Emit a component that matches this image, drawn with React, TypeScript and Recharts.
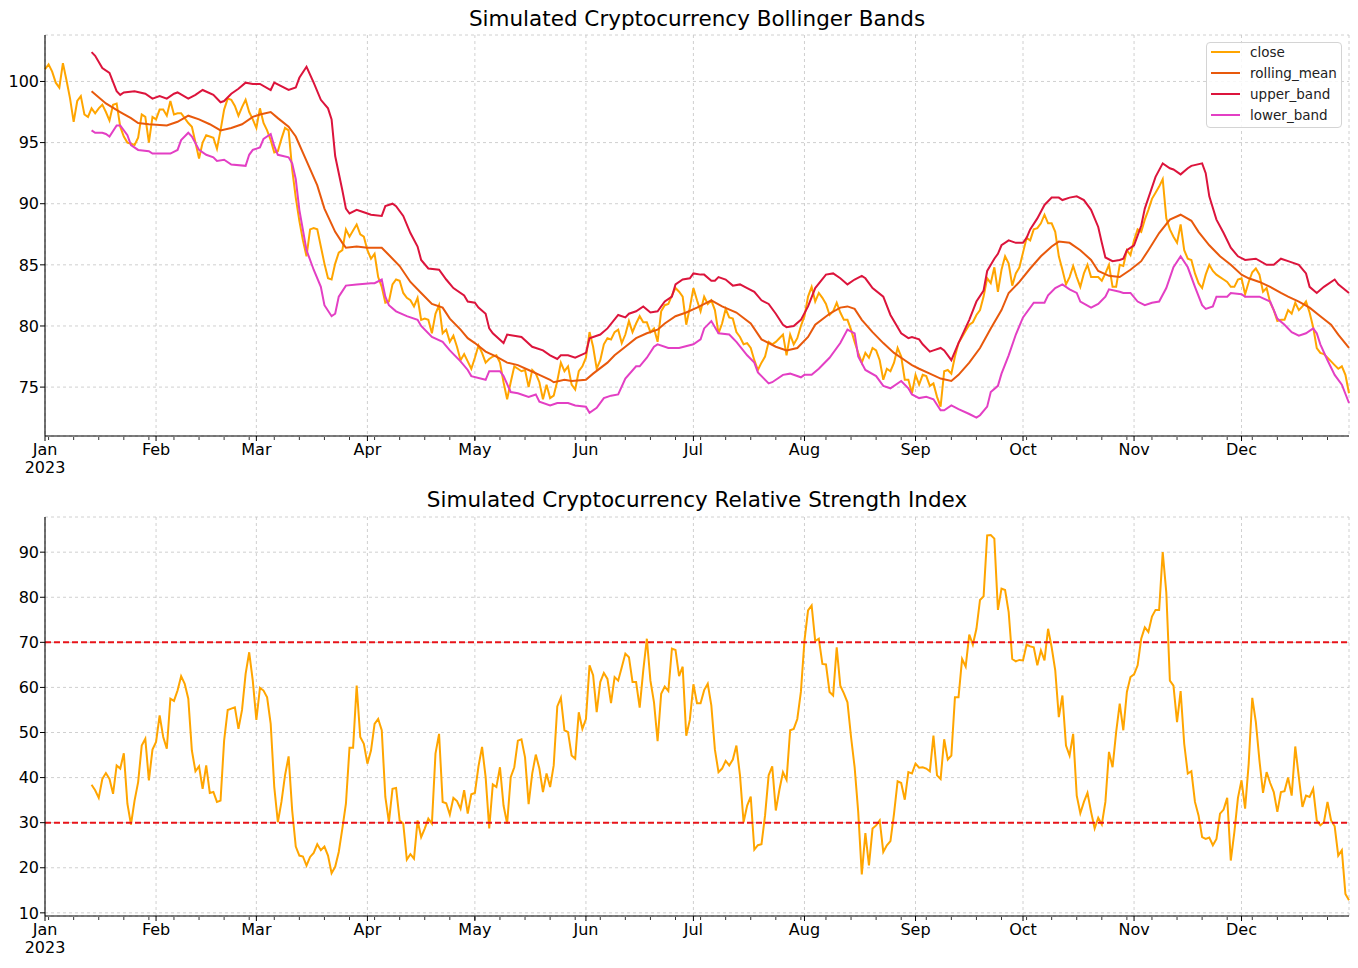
import React from "react";
import { LineChart, Line, XAxis, YAxis, CartesianGrid, ReferenceLine } from "recharts";

// ── Data (day index 0 = 2023-01-01) ─────────────────────────────

const YEAR_LABEL = "2023";
const MONTH_STARTS = [0, 31, 59, 90, 120, 151, 181, 212, 243, 273, 304, 334];
const MONTH_LABELS = ["Jan", "Feb", "Mar", "Apr", "May", "Jun", "Jul", "Aug", "Sep", "Oct", "Nov", "Dec"];

const BAND_TICKS = [75, 80, 85, 90, 95, 100];
const RSI_TICKS = [10, 20, 30, 40, 50, 60, 70, 80, 90];
const RSI_LEVELS = [70, 30];

// daily close, one value per day
const closeValues = [
  101.0, 101.4, 100.8, 99.9, 99.5, 101.5, 100.1, 98.6, 96.7, 98.4,
  98.8, 97.3, 97.1, 97.8, 97.4, 97.8, 98.1, 97.5, 96.8, 98.1,
  98.2, 96.3, 95.5, 95.0, 94.9, 94.8, 95.4, 97.3, 97.1, 95.0,
  97.1, 96.9, 97.7, 97.7, 97.2, 98.4, 97.3, 97.4, 97.4, 97.0,
  96.6, 96.3, 95.0, 93.7, 95.0, 95.6, 95.5, 95.4, 94.5, 96.0,
  97.7, 98.6, 98.5, 98.0, 97.2, 97.9, 98.5, 97.5, 96.9, 96.2,
  97.8, 96.6, 96.0, 95.2, 94.2, 94.3, 95.3, 96.2, 96.0, 92.8,
  90.5, 88.6, 87.0, 85.7, 87.9, 88.0, 87.9, 86.5, 85.1, 83.9,
  83.8, 85.1, 86.0, 86.2, 87.9, 87.3, 87.8, 88.3, 87.5, 87.3,
  86.2, 85.5, 85.9, 84.0, 83.2, 81.9, 82.0, 83.4, 83.8, 83.7,
  82.7, 82.3, 82.1, 81.6, 82.3, 80.5, 80.6, 80.5, 79.4, 81.0,
  81.7, 79.4, 79.7, 78.7, 79.2, 78.3, 77.2, 77.7, 77.1, 76.5,
  77.4, 78.4, 77.8, 77.0, 77.3, 77.5, 77.6, 77.0, 75.4, 74.0,
  75.4, 76.7, 76.5, 76.3, 76.4, 75.0, 76.4, 76.1, 75.4, 74.0,
  75.2, 74.1, 74.3, 75.5, 77.0, 76.3, 76.7, 75.2, 74.8, 76.3,
  76.7, 77.4, 79.5, 78.3, 76.5, 77.2, 78.5, 79.0, 78.9, 79.5,
  79.7, 78.6, 79.3, 80.4, 79.5, 80.2, 80.8, 80.3, 80.3, 79.5,
  79.8, 78.7, 81.2, 81.7, 81.8, 82.5, 83.1, 82.8, 82.4, 80.1,
  81.5, 83.1, 82.1, 81.2, 82.4, 81.8, 82.1, 81.3, 79.4, 80.2,
  81.4, 80.7, 80.6, 79.5, 79.1, 78.5, 78.6, 78.2, 77.2, 76.4,
  77.0, 77.5, 78.7, 78.5, 78.7, 79.0, 79.3, 77.6, 79.3, 78.5,
  79.0, 80.0, 80.8, 82.4, 83.2, 82.0, 82.7, 82.3, 81.8, 80.9,
  81.2, 81.9, 81.1, 80.5, 80.5, 79.7, 78.7, 77.8, 77.0, 77.8,
  77.4, 78.2, 78.0, 77.2, 75.6, 76.5, 76.3, 77.0, 78.2, 77.5,
  75.6, 75.6, 74.5, 76.0, 75.2, 76.0, 75.9, 75.1, 75.3, 74.2,
  73.4, 76.3, 76.4, 76.1, 77.5, 78.6, 79.1, 79.6, 80.1, 80.3,
  80.9, 81.3, 82.4, 83.9, 83.5, 84.8, 82.8, 84.6, 85.7, 85.1,
  83.3, 84.3, 84.8, 86.0, 87.2, 87.0, 87.9, 88.0, 88.4, 89.1,
  88.4, 88.4, 87.7, 85.7, 84.6, 83.4, 84.0, 84.9, 84.0, 83.2,
  84.3, 85.0, 84.0, 84.0, 84.0, 83.7, 84.3, 85.0, 83.2, 83.2,
  85.0, 84.9, 86.2, 85.8, 87.0, 87.9, 87.7, 88.7, 89.5, 90.4,
  90.9, 91.4, 92.0, 88.8, 87.9, 87.3, 86.8, 88.3, 86.2, 85.5,
  85.4, 84.3, 83.5, 83.1, 84.2, 85.0, 84.5, 84.2, 84.0, 83.8,
  83.6, 83.2, 83.2, 83.8, 83.9, 82.6, 83.6, 84.4, 84.7, 84.2,
  82.8, 83.1, 81.9, 81.3, 80.4, 80.5, 80.5, 81.3, 81.0, 81.9,
  81.3, 81.6, 82.0, 81.1, 79.9, 78.2, 77.8, 77.7, 77.4, 77.1,
  76.8, 76.5, 76.7, 76.0, 74.5,
];

const rollingMean: [number, number][] = [
  [13, 99.2], [17, 98.2], [21, 97.5], [24, 97.0], [26, 96.6], [29, 96.5], [34, 96.4], [37, 96.7],
  [40, 97.2], [43, 96.9], [46, 96.5], [49, 96.0], [52, 96.2], [55, 96.5], [58, 97.1], [60, 97.3],
  [63, 97.5], [65, 97.0], [68, 96.3], [70, 95.5], [73, 93.5], [76, 91.5], [78, 89.6], [81, 87.7],
  [83, 86.8], [84, 86.4], [87, 86.5], [90, 86.4], [94, 86.4], [96, 85.8], [99, 84.9], [102, 83.6],
  [105, 82.7], [108, 81.8], [111, 81.5], [113, 80.6], [116, 79.7], [118, 79.0], [120, 78.6], [123, 77.9],
  [126, 77.5], [129, 77.0], [132, 76.8], [135, 76.4], [138, 76.0], [141, 75.6], [142, 75.4], [145, 75.6],
  [147, 75.5], [151, 75.6], [153, 76.1], [157, 77.0], [159, 77.6], [162, 78.3], [165, 79.0], [168, 79.4],
  [171, 79.7], [173, 80.2], [176, 80.8], [179, 81.1], [182, 81.5], [186, 82.1], [189, 81.6], [193, 81.1],
  [197, 80.2], [200, 78.9], [204, 78.3], [207, 78.0], [210, 78.2], [213, 79.1], [215, 80.1], [219, 81.0],
  [222, 81.5], [224, 81.6], [226, 81.4], [228, 80.5], [231, 79.5], [234, 78.6], [237, 77.8], [240, 77.2],
  [242, 76.8], [244, 76.5], [247, 76.1], [250, 75.7], [253, 75.5], [255, 76.0], [258, 77.0], [261, 78.2],
  [264, 79.8], [267, 81.3], [269, 82.7], [272, 83.6], [275, 84.7], [278, 85.7], [281, 86.5], [283, 86.9],
  [286, 86.8], [289, 86.2], [292, 85.4], [294, 84.5], [297, 84.1], [300, 84.0], [303, 84.6], [306, 85.3],
  [308, 86.2], [311, 87.6], [314, 88.7], [317, 89.1], [320, 88.6], [322, 87.7], [325, 86.6], [328, 85.7],
  [331, 85.0], [334, 84.2], [336, 83.9], [339, 83.6], [342, 83.2], [345, 82.7], [347, 82.4], [350, 82.0],
  [353, 81.5], [356, 80.8], [359, 80.1], [361, 79.3], [364, 78.2],
];

const upperBand: [number, number][] = [
  [13, 102.4], [14, 102.1], [16, 101.1], [18, 100.7], [20, 99.2], [21, 98.9], [22, 99.1], [25, 99.2],
  [28, 99.0], [30, 98.6], [32, 98.8], [34, 98.6], [36, 99.0], [37, 99.1], [40, 98.6], [42, 98.9],
  [44, 99.3], [47, 98.9], [49, 98.3], [50, 98.4], [52, 99.0], [54, 99.4], [56, 99.9], [58, 99.8],
  [60, 99.8], [63, 99.3], [64, 99.9], [68, 99.3], [70, 99.5], [71, 100.3], [73, 101.2], [75, 99.9],
  [77, 98.5], [79, 97.8], [80, 96.9], [81, 93.9], [83, 91.1], [84, 89.6], [85, 89.2], [87, 89.5],
  [89, 89.3], [91, 89.1], [94, 89.0], [95, 89.8], [97, 90.0], [98, 89.8], [100, 89.0], [102, 87.6],
  [104, 86.5], [105, 85.4], [107, 84.7], [110, 84.6], [112, 83.8], [114, 83.1], [117, 82.5], [118, 82.0],
  [120, 81.9], [121, 81.5], [123, 81.0], [124, 79.8], [125, 79.4], [128, 78.6], [129, 79.3], [133, 79.1],
  [136, 78.3], [139, 78.0], [141, 77.6], [143, 77.3], [144, 77.6], [146, 77.6], [148, 77.4], [151, 77.8],
  [152, 79.0], [155, 79.3], [157, 79.8], [160, 80.9], [162, 80.7], [163, 81.0], [165, 81.2], [167, 81.6],
  [169, 81.1], [171, 81.2], [173, 82.0], [175, 82.4], [176, 83.4], [178, 83.8], [180, 83.9], [181, 84.3],
  [183, 84.2], [184, 84.2], [186, 83.7], [187, 83.7], [188, 84.0], [190, 83.8], [192, 83.3], [194, 83.4],
  [196, 83.1], [198, 82.8], [200, 82.1], [202, 81.8], [204, 81.0], [206, 80.1], [207, 79.9], [209, 80.0],
  [211, 80.5], [213, 81.6], [215, 83.1], [218, 84.2], [220, 84.3], [222, 83.9], [224, 83.4], [226, 83.8],
  [228, 84.1], [229, 83.9], [231, 83.1], [234, 82.4], [236, 80.9], [239, 79.4], [241, 79.0], [242, 79.1],
  [244, 78.9], [245, 78.5], [247, 77.9], [248, 78.0], [250, 78.2], [251, 78.0], [253, 77.2], [255, 78.6],
  [258, 80.5], [260, 82.0], [262, 82.9], [263, 84.5], [265, 85.5], [266, 85.9], [267, 86.6], [269, 87.0],
  [271, 86.8], [273, 86.8], [274, 87.2], [275, 87.9], [277, 88.8], [279, 89.9], [281, 90.5], [283, 90.5],
  [284, 90.3], [286, 90.5], [288, 90.6], [290, 90.3], [292, 89.5], [294, 88.1], [295, 86.8], [296, 85.6],
  [298, 85.3], [300, 85.4], [301, 85.5], [302, 86.2], [304, 86.6], [306, 88.2], [307, 89.6], [310, 92.2],
  [312, 93.3], [314, 92.9], [315, 92.8], [317, 92.4], [319, 92.9], [320, 93.1], [323, 93.3], [324, 92.5],
  [325, 90.6], [327, 88.7], [329, 87.6], [331, 86.4], [333, 85.7], [335, 85.4], [338, 85.5], [341, 85.0],
  [343, 85.0], [345, 85.5], [347, 85.3], [350, 85.0], [352, 84.3], [353, 83.2], [355, 82.7], [357, 83.2],
  [360, 83.8], [361, 83.4], [364, 82.7],
];

const lowerBand: [number, number][] = [
  [13, 96.0], [14, 95.8], [16, 95.8], [17, 95.7], [18, 95.5], [20, 96.4], [21, 96.4], [23, 95.6],
  [24, 94.8], [26, 94.4], [29, 94.3], [30, 94.1], [33, 94.1], [35, 94.1], [37, 94.4], [38, 95.2],
  [40, 95.8], [41, 95.5], [43, 94.4], [45, 94.0], [47, 93.8], [48, 93.5], [50, 93.6], [52, 93.2],
  [56, 93.1], [57, 94.0], [58, 94.4], [60, 94.6], [61, 95.3], [63, 95.7], [64, 94.7], [65, 94.0],
  [68, 93.8], [69, 93.3], [70, 92.0], [71, 89.5], [73, 86.2], [75, 84.6], [77, 83.2], [78, 81.7],
  [80, 80.8], [81, 81.0], [82, 82.4], [84, 83.3], [87, 83.4], [91, 83.5], [92, 83.5], [94, 83.8],
  [95, 82.4], [96, 81.7], [98, 81.2], [101, 80.8], [104, 80.5], [105, 80.0], [108, 79.1], [111, 78.7],
  [113, 78.0], [116, 77.1], [118, 76.4], [119, 75.9], [123, 75.6], [124, 76.3], [127, 76.3], [128, 75.9],
  [130, 74.6], [132, 74.5], [135, 74.2], [137, 74.4], [138, 73.8], [141, 73.5], [143, 73.7], [146, 73.7],
  [148, 73.5], [151, 73.4], [152, 72.9], [154, 73.3], [156, 74.1], [158, 74.3], [160, 74.4], [162, 75.7],
  [165, 76.7], [166, 76.7], [168, 77.4], [170, 78.3], [171, 78.5], [174, 78.2], [177, 78.2], [181, 78.5],
  [183, 78.9], [184, 79.8], [186, 80.4], [188, 79.4], [191, 79.3], [193, 78.7], [196, 77.6], [198, 77.0],
  [199, 76.2], [202, 75.3], [203, 75.4], [206, 76.0], [208, 76.1], [211, 75.8], [212, 76.0], [214, 76.0],
  [216, 76.5], [219, 77.4], [222, 78.6], [224, 79.7], [226, 79.4], [227, 77.5], [229, 76.4], [232, 75.9],
  [234, 75.1], [236, 74.9], [239, 75.5], [241, 74.9], [242, 74.4], [244, 74.1], [246, 74.2], [248, 74.0],
  [250, 73.1], [251, 73.1], [253, 73.5], [255, 73.2], [258, 72.8], [260, 72.5], [261, 72.7], [263, 73.4],
  [264, 74.6], [266, 75.1], [267, 76.1], [269, 77.6], [271, 79.3], [273, 80.7], [276, 81.9], [278, 81.9],
  [279, 81.9], [280, 82.5], [282, 83.1], [284, 83.4], [286, 83.0], [288, 82.7], [289, 82.0], [292, 81.5],
  [294, 81.8], [296, 82.4], [297, 83.0], [300, 82.8], [301, 82.7], [303, 82.7], [305, 82.0], [307, 81.7],
  [309, 81.9], [311, 82.0], [313, 83.1], [315, 84.8], [317, 85.7], [319, 84.8], [321, 83.2], [323, 81.7],
  [324, 81.4], [326, 81.6], [327, 82.4], [330, 82.4], [331, 82.7], [334, 82.6], [335, 82.4], [336, 82.4],
  [339, 82.4], [342, 82.0], [344, 80.6], [346, 80.1], [348, 79.5], [350, 79.2], [352, 79.4], [354, 79.8],
  [355, 79.4], [356, 78.5], [358, 77.2], [360, 76.0], [362, 75.2], [364, 73.7],
];

// RSI, daily from day 13 onwards
const RSI_FIRST_DAY = 13;
const rsiValues = [
  38.4, 37.2, 35.5, 39.7, 41.0, 39.7, 36.4,
  42.7, 42.0, 45.4, 34.2, 29.6, 34.9, 39.0, 47.1, 48.6, 39.4,
  46.2, 47.9, 53.8, 49.0, 46.4, 57.5, 57.0, 59.3, 62.5, 60.8,
  57.5, 46.0, 41.4, 42.5, 37.5, 42.7, 36.6, 36.8, 34.6, 34.9,
  48.2, 55.0, 55.3, 55.6, 50.8, 55.0, 63.0, 67.8, 61.5, 52.8,
  59.9, 59.3, 57.8, 51.9, 37.9, 30.1, 34.6, 40.5, 44.7, 32.7,
  24.7, 22.7, 22.5, 20.5, 22.4, 23.3, 25.2, 23.9, 24.7, 22.7,
  18.8, 20.2, 23.5, 28.7, 34.2, 46.6, 46.6, 60.4, 49.0, 47.5,
  43.1, 46.0, 51.9, 53.0, 50.5, 35.7, 30.1, 37.5, 37.7, 30.5,
  29.8, 21.8, 23.0, 22.0, 30.5, 26.8, 28.7, 30.9, 29.8, 45.3,
  49.7, 34.6, 34.3, 31.8, 35.5, 34.8, 33.1, 37.2, 32.0, 36.3,
  36.6, 42.5, 46.8, 40.1, 28.7, 38.5, 37.9, 42.3, 33.8, 29.8,
  40.1, 42.3, 48.2, 48.5, 44.5, 34.1, 40.9, 45.1, 42.0, 36.8,
  40.9, 37.9, 42.7, 55.8, 57.7, 50.5, 50.1, 44.9, 44.2, 54.5,
  50.8, 53.0, 64.9, 62.7, 54.5, 61.2, 63.2, 61.9, 56.5, 62.3,
  61.5, 64.5, 67.5, 66.7, 61.2, 61.2, 55.5, 63.8, 70.8, 61.5,
  56.7, 48.1, 58.6, 60.2, 59.2, 68.6, 68.3, 62.5, 64.6, 49.3,
  52.8, 60.7, 56.5, 56.5, 59.4, 60.8, 56.0, 46.2, 41.2, 42.0,
  43.7, 42.7, 44.0, 47.1, 40.5, 30.1, 33.8, 35.8, 24.0, 25.0,
  25.2, 31.6, 40.5, 42.5, 32.7, 37.3, 41.2, 39.5, 50.5, 50.8,
  53.0, 59.0, 70.4, 77.1, 78.2, 70.3, 70.8, 65.2, 65.1, 59.0,
  58.2, 68.9, 60.4, 58.7, 56.7, 49.0, 42.3, 32.4, 18.5, 27.7,
  20.5, 28.7, 29.4, 30.5, 23.5, 25.0, 25.9, 32.0, 39.2, 38.8,
  35.1, 41.2, 40.9, 43.1, 42.2, 42.3, 42.0, 41.4, 49.3, 40.5,
  39.7, 48.5, 44.0, 44.9, 57.8, 57.8, 66.3, 64.6, 71.7, 69.5,
  73.0, 79.4, 80.2, 93.7, 93.8, 93.0, 77.2, 81.9, 81.6, 76.7,
  66.3, 65.8, 66.1, 66.0, 69.5, 69.1, 68.9, 64.9, 68.2, 66.0,
  73.0, 68.9, 63.8, 53.4, 58.2, 47.1, 44.9, 49.7, 36.0, 32.1,
  34.6, 36.6, 32.4, 28.7, 31.1, 29.6, 34.6, 45.7, 42.3, 50.1,
  56.4, 50.5, 59.0, 62.3, 62.9, 64.9, 70.8, 73.3, 72.3, 75.7,
  77.2, 77.2, 90.0, 81.1, 61.5, 60.4, 52.3, 59.2, 47.5, 40.9,
  41.4, 34.6, 31.6, 26.8, 26.4, 26.7, 25.0, 26.4, 32.0, 32.9,
  35.5, 21.6, 27.9, 35.5, 39.4, 33.1, 43.1, 57.7, 52.3, 43.8,
  36.6, 41.2, 38.8, 36.8, 32.4, 36.8, 37.0, 40.0, 36.0, 46.9,
  40.1, 33.5, 36.0, 35.7, 37.5, 30.5, 29.4, 30.1, 34.6, 30.5,
  29.2, 22.7, 23.9, 14.2, 12.8,
];

// ── Tables / ticks ───────────────────────────────────────────────

const LAST_DAY = closeValues.length - 1;

// weekly minor ticks (Mondays)
const MINOR_TICKS: number[] = [];
for (let d = 1; d <= LAST_DAY; d += 7) MINOR_TICKS.push(d);

const rollingMap = new Map(rollingMean);
const upperMap = new Map(upperBand);
const lowerMap = new Map(lowerBand);

const bandRows = closeValues.map((close, day) => ({
  day,
  close,
  rolling_mean: rollingMap.get(day),
  upper_band: upperMap.get(day),
  lower_band: lowerMap.get(day),
}));

const rsiRows = rsiValues.map((rsi, i) => ({ day: i + RSI_FIRST_DAY, rsi }));

const COLORS = {
  close: "#ffa500",
  rolling_mean: "#e8590c",
  upper_band: "#dc143c",
  lower_band: "#e33fc4",
  level: "#e8141a",
  grid: "#c4c4c4",
};

const FONT = "'DejaVu Sans', Verdana, sans-serif";
const W = 1358;

// ── Axis ticks ──────────────────────────────────────────────────

function DateTick(props: any) {
  const { x, y, payload } = props;
  const idx = MONTH_STARTS.indexOf(payload.value);
  const major = idx >= 0;
  return (
    <g>
      <line x1={x} x2={x} y1={y} y2={y + (major ? 5 : 3)} stroke="#000" strokeWidth={1} />
      {major && (
        <text x={x} y={y + 19} textAnchor="middle" fontSize={16} fill="#000" fontFamily={FONT}>
          {MONTH_LABELS[idx]}
        </text>
      )}
      {idx === 0 && (
        <text x={x} y={y + 37} textAnchor="middle" fontSize={16} fill="#000" fontFamily={FONT}>
          {YEAR_LABEL}
        </text>
      )}
    </g>
  );
}

function MinorTick(props: any) {
  const { x, y } = props;
  return <line x1={x} x2={x} y1={y} y2={y + 3} stroke="#000" strokeWidth={0.8} />;
}

// both date axes are 1px tall so they sit on the plot edge; labels are drawn by DateTick
function DateAxes() {
  return [
    <XAxis
      key="major"
      dataKey="day"
      type="number"
      domain={[0, LAST_DAY]}
      ticks={MONTH_STARTS}
      interval={0}
      height={1}
      tickSize={0}
      tickMargin={0}
      tick={<DateTick />}
      axisLine={{ stroke: "#000", strokeWidth: 1.1 }}
      tickLine={false}
    />,
    <XAxis
      key="minor"
      xAxisId="minor"
      dataKey="day"
      type="number"
      domain={[0, LAST_DAY]}
      ticks={MINOR_TICKS}
      interval={0}
      height={1}
      tickSize={0}
      tickMargin={0}
      tick={<MinorTick />}
      axisLine={false}
      tickLine={false}
    />,
  ];
}

const yTickStyle = { fill: "#000", fontSize: 16, fontFamily: FONT };

// ── Legend ──────────────────────────────────────────────────────

const LEGEND_ITEMS: { key: keyof typeof COLORS; label: string }[] = [
  { key: "close", label: "close" },
  { key: "rolling_mean", label: "rolling_mean" },
  { key: "upper_band", label: "upper_band" },
  { key: "lower_band", label: "lower_band" },
];

function BandLegend() {
  return (
    <div
      style={{
        position: "absolute",
        left: 1206,
        top: 42,
        width: 136,
        height: 86,
        border: "1px solid #d4d4d4",
        borderRadius: 4,
        background: "rgba(255,255,255,0.85)",
        boxSizing: "border-box",
      }}
    >
      {LEGEND_ITEMS.map((item, i) => (
        <div
          key={item.key}
          style={{ position: "absolute", left: 0, top: -1 + i * 21, height: 21, width: 136 }}
        >
          <div
            style={{
              position: "absolute",
              left: 4,
              top: 9,
              width: 29,
              height: 2,
              background: COLORS[item.key],
            }}
          />
          <span
            style={{
              position: "absolute",
              left: 43,
              top: 1,
              fontSize: 13.5,
              lineHeight: "19px",
              color: "#222",
              fontFamily: FONT,
              whiteSpace: "nowrap",
            }}
          >
            {item.label}
          </span>
        </div>
      ))}
    </div>
  );
}

function Title({ top, text }: { top: number; text: string }) {
  return (
    <div
      style={{
        position: "absolute",
        left: 45,
        width: 1304,
        top,
        textAlign: "center",
        fontSize: 21.5,
        lineHeight: "26px",
        fontFamily: FONT,
        color: "#000",
      }}
    >
      {text}
    </div>
  );
}

// ── Charts ──────────────────────────────────────────────────────

function BollingerChart() {
  return (
    <LineChart
      width={W}
      height={480}
      data={bandRows}
      margin={{ top: 35, right: 9, bottom: 42, left: 0 }}
    >
      <CartesianGrid stroke={COLORS.grid} strokeDasharray="3 3" strokeWidth={0.8} />
      {DateAxes()}
      <YAxis
        type="number"
        domain={[71.0, 103.8]}
        ticks={BAND_TICKS}
        interval={0}
        allowDataOverflow
        width={45}
        tick={yTickStyle}
        tickSize={5}
        tickMargin={1}
        axisLine={{ stroke: "#000", strokeWidth: 1.1 }}
        tickLine={{ stroke: "#000" }}
      />
      <Line dataKey="close" stroke={COLORS.close} strokeWidth={2} dot={false} isAnimationActive={false} />
      <Line dataKey="rolling_mean" stroke={COLORS.rolling_mean} strokeWidth={2} dot={false} connectNulls isAnimationActive={false} />
      <Line dataKey="upper_band" stroke={COLORS.upper_band} strokeWidth={2} dot={false} connectNulls isAnimationActive={false} />
      <Line dataKey="lower_band" stroke={COLORS.lower_band} strokeWidth={2} dot={false} connectNulls isAnimationActive={false} />
    </LineChart>
  );
}

function RsiChart() {
  return (
    <LineChart
      width={W}
      height={488}
      data={rsiRows}
      margin={{ top: 37, right: 9, bottom: 50, left: 0 }}
    >
      <CartesianGrid stroke={COLORS.grid} strokeDasharray="3 3" strokeWidth={0.8} />
      {DateAxes()}
      <YAxis
        type="number"
        domain={[9.3, 97.8]}
        ticks={RSI_TICKS}
        interval={0}
        allowDataOverflow
        width={45}
        tick={yTickStyle}
        tickSize={5}
        tickMargin={1}
        axisLine={{ stroke: "#000", strokeWidth: 1.1 }}
        tickLine={{ stroke: "#000" }}
      />
      <Line dataKey="rsi" stroke={COLORS.close} strokeWidth={2} dot={false} isAnimationActive={false} />
      {RSI_LEVELS.map((level) => (
        <ReferenceLine
          key={level}
          y={level}
          stroke={COLORS.level}
          strokeWidth={2}
          strokeDasharray="6 3"
        />
      ))}
    </LineChart>
  );
}

export default function App() {
  return (
    <div
      style={{
        position: "absolute",
        left: 0,
        top: 0,
        width: W,
        height: 968,
        background: "#fff",
        fontFamily: FONT,
      }}
    >
      <div style={{ position: "absolute", left: 0, top: 0 }}>
        <BollingerChart />
      </div>
      <div style={{ position: "absolute", left: 0, top: 480 }}>
        <RsiChart />
      </div>
      <Title top={6} text="Simulated Cryptocurrency Bollinger Bands" />
      <Title top={487} text="Simulated Cryptocurrency Relative Strength Index" />
      <BandLegend />
    </div>
  );
}
